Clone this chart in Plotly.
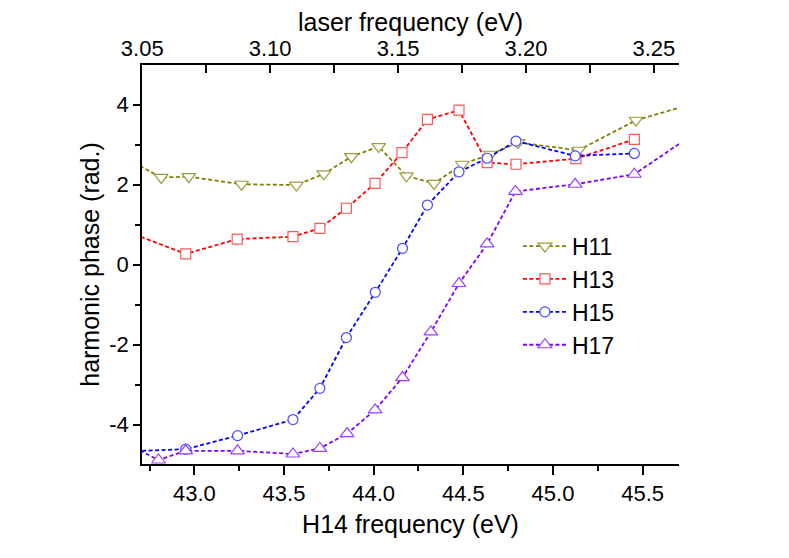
import plotly.graph_objects as go

# phase values (H14 frequency in eV, phase in rad.)
h11_x = [42.60, 42.815, 42.969, 43.263, 43.569, 43.722, 43.876, 44.028, 44.183, 44.337, 44.494, 44.652, 44.806, 45.143, 45.463, 45.78]
h11_y = [2.70, 2.18, 2.20, 2.01, 1.99, 2.27, 2.70, 2.95, 2.22, 2.03, 2.51, 2.76, 3.05, 2.86, 3.61, 4.02]

h13_x = [42.60, 42.952, 43.239, 43.55, 43.70, 43.848, 44.008, 44.158, 44.30, 44.476, 44.633, 44.794, 45.128, 45.454]
h13_y = [0.87, 0.27, 0.64, 0.70, 0.91, 1.41, 2.03, 2.80, 3.63, 3.86, 2.55, 2.51, 2.65, 3.13]

h15_x = [42.60, 42.952, 43.241, 43.55, 43.70, 43.848, 44.009, 44.161, 44.30, 44.476, 44.633, 44.794, 45.124, 45.454]
h15_y = [-4.67, -4.61, -4.27, -3.87, -3.09, -1.82, -0.69, 0.41, 1.49, 2.32, 2.66, 3.09, 2.72, 2.78]

h17_x = [42.60, 42.80, 42.952, 43.241, 43.55, 43.70, 43.852, 44.008, 44.161, 44.319, 44.476, 44.633, 44.791, 45.124, 45.454, 45.80]
h17_y = [-4.42, -4.88, -4.65, -4.65, -4.73, -4.59, -4.22, -3.63, -2.82, -1.68, -0.47, 0.52, 1.83, 2.01, 2.26, 3.31]

bottom_ticks = [43.0, 43.5, 44.0, 44.5, 45.0, 45.5]
top_ticks = [3.05, 3.10, 3.15, 3.20, 3.25]
y_ticks = [-4, -2, 0, 2, 4]

FONT = "Arial, Liberation Sans, sans-serif"

series = [
    ("H11", h11_x, h11_y, "#808000", "#9a9a3a", "triangle-down", 12),
    ("H13", h13_x, h13_y, "#ff0000", "#ff5a5a", "square", 10),
    ("H15", h15_x, h15_y, "#0000ff", "#4a4aff", "circle", 10),
    ("H17", h17_x, h17_y, "#8000ff", "#9a40ff", "triangle-up", 12),
]

fig = go.Figure()
for name, xs, ys, lc, mc, sym, sz in series:
    fig.add_trace(go.Scatter(x=xs, y=ys, name=name, mode="lines+markers",
                             line=dict(color=lc, width=1.8, dash="4px,2.5px"),
                             marker=dict(symbol=sym, size=sz, color="white", line=dict(color=mc, width=1.2))))

# empty trace so the top (laser frequency) axis gets drawn
fig.add_trace(go.Scatter(x=[], y=[], xaxis="x2", showlegend=False, hoverinfo="skip"))

ax_common = dict(showline=True, linecolor="black", linewidth=1.5, showgrid=False, zeroline=False,
                 tickcolor="black", tickwidth=1.5, tickfont=dict(size=22, color="black"), automargin=False)

# the page body adds 8px on the left/top, so margins are shifted to compensate
fig.update_layout(
    width=789, height=558,
    margin=dict(l=134, r=118, t=57, b=102),
    plot_bgcolor="white", paper_bgcolor="white",
    font=dict(family=FONT, color="black"),
    xaxis=dict(range=[42.708, 45.703], tickvals=bottom_ticks, ticktext=[f"{v:.1f}" for v in bottom_ticks],
               ticks="outside", ticklen=9,
               minor=dict(dtick=0.25, tick0=43.0, ticks="outside", ticklen=5, tickcolor="black", tickwidth=1.5),
               title=dict(text="H14 frequency (eV)", font=dict(size=25), standoff=10), **ax_common),
    xaxis2=dict(range=[3.0499, 3.2598], overlaying="x", side="top", anchor="y",
                tickvals=top_ticks, ticktext=[f"{v:.2f}" for v in top_ticks],
                ticks="inside", ticklen=8, ticklabelstandoff=-2,
                minor=dict(dtick=0.025, tick0=3.05, ticks="inside", ticklen=8, tickcolor="black", tickwidth=1.5),
                title=dict(text="laser frequency (eV)", font=dict(size=25), standoff=5), **ax_common),
    yaxis=dict(range=[-4.98, 4.99], tickvals=y_ticks, ticktext=[str(v) for v in y_ticks],
               ticks="outside", ticklen=7,
               minor=dict(dtick=1, tick0=0, ticks="outside", ticklen=5, tickcolor="black", tickwidth=1.5),
               title=dict(text="harmonic phase (rad.)", font=dict(size=25), standoff=3), **ax_common),
    yaxis2=dict(range=[-4.98, 4.99], overlaying="y", side="right", anchor="x",
                tickvals=y_ticks, ticktext=[str(v) for v in y_ticks],
                ticks="inside", ticklen=9,
                minor=dict(dtick=1, tick0=0, ticks="inside", ticklen=5, tickcolor="black", tickwidth=1.5),
                **ax_common),
    legend=dict(x=0.70, y=0.60, xanchor="left", yanchor="top", font=dict(size=23),
                bgcolor="rgba(0,0,0,0)", tracegroupgap=0, itemwidth=44),
    showlegend=True,
)

fig.write_html("out.html")
